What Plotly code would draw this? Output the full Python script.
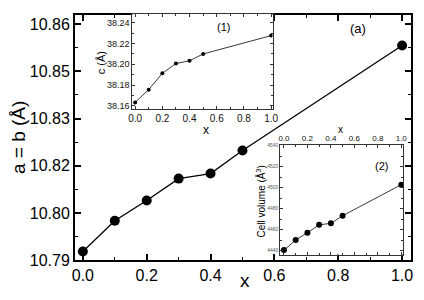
import plotly.graph_objects as go

# ---------------- data ----------------
x_vals = [0.0, 0.1, 0.2, 0.3, 0.4, 0.5, 1.0]
ab_vals = [10.7926, 10.8017, 10.8077, 10.8142, 10.8157, 10.8225, 10.8536]
c_vals = [38.1632, 38.1755, 38.1913, 38.2007, 38.2034, 38.2100, 38.2277]
vol_vals = [4440.6, 4450.2, 4457.1, 4464.6, 4466.1, 4473.3, 4502.8]

main_ytickvals = [10.790, 10.804, 10.818, 10.832, 10.846, 10.860]
main_yticktext = ["10.79", "10.80", "10.82", "10.83", "10.85", "10.86"]
main_xtickvals = [0.0, 0.2, 0.4, 0.6, 0.8, 1.0]
main_xticktext = ["0.0", "0.2", "0.4", "0.6", "0.8", "1.0"]
c_tickvals = [38.16, 38.18, 38.20, 38.22, 38.24]
c_ticktext = ["38.16", "38.18", "38.20", "38.22", "38.24"]
vol_tickvals = [4440, 4460, 4480, 4500, 4520, 4540]
vol_ticktext = ["4440", "4460", "4480", "4500", "4520", "4540"]

FONT = "Liberation Sans, Arial, sans-serif"
W, H = 424, 300

fig = go.Figure()

fig.add_trace(go.Scatter(x=x_vals, y=ab_vals, mode="lines+markers",
                         line=dict(color="black", width=1.3),
                         marker=dict(color="black", size=10),
                         xaxis="x", yaxis="y", showlegend=False))
fig.add_trace(go.Scatter(x=x_vals, y=c_vals, mode="lines+markers",
                         line=dict(color="#222", width=0.9),
                         marker=dict(color="black", size=4),
                         xaxis="x2", yaxis="y2", showlegend=False))
fig.add_trace(go.Scatter(x=x_vals, y=vol_vals, mode="lines+markers",
                         line=dict(color="#222", width=0.9),
                         marker=dict(color="black", size=6),
                         xaxis="x3", yaxis="y3", showlegend=False))


def px_x(p):
    return p / W


def px_y(p):
    return 1 - p / H


main_ax = dict(showline=True, linecolor="black", linewidth=2, mirror="ticks",
               ticks="inside", ticklen=6, tickwidth=1.5, tickcolor="black",
               showgrid=False, zeroline=False, ticklabeloverflow="allow",
               tickfont=dict(family=FONT, size=16, color="black"))

fig.update_layout(
    width=W, height=H,
    margin=dict(l=0, r=0, t=0, b=0),
    paper_bgcolor="white", plot_bgcolor="white",
    xaxis=dict(main_ax, domain=[px_x(72.7), px_x(416.7)], range=[-0.0247, 1.0275],
               tickvals=main_xtickvals, ticktext=main_xticktext, anchor="y",
               minor=dict(dtick=0.1, ticks="inside", ticklen=3, tickwidth=1.2, tickcolor="black")),
    yaxis=dict(main_ax, domain=[px_y(268), px_y(12)], range=[10.79, 10.8628],
               tickvals=main_ytickvals, ticktext=main_yticktext, anchor="x",
               minor=dict(dtick=0.007, tick0=10.79, ticks="inside", ticklen=3, tickwidth=1.2, tickcolor="black")),
)

inset_ax = dict(showline=True, linecolor="#333", linewidth=1, mirror="ticks",
                ticks="inside", ticklen=3, tickwidth=0.8, tickcolor="#333",
                showgrid=False, zeroline=False, ticklabeloverflow="allow")

fig.update_layout(
    xaxis2=dict(inset_ax, domain=[px_x(131.5), px_x(275)], range=[-0.02, 1.01],
                tickvals=main_xtickvals, ticktext=main_xticktext, anchor="y2",
                tickfont=dict(family=FONT, size=10, color="#111"),
                minor=dict(dtick=0.1, ticks="inside", ticklen=2, tickwidth=0.7, tickcolor="#333")),
    yaxis2=dict(inset_ax, domain=[px_y(110), px_y(11)], range=[38.1572, 38.249],
                tickvals=c_tickvals, ticktext=c_ticktext, anchor="x2",
                tickfont=dict(family=FONT, size=9, color="#111"),
                minor=dict(dtick=0.01, ticks="inside", ticklen=2, tickwidth=0.7, tickcolor="#333")),
    xaxis3=dict(inset_ax, domain=[px_x(283), px_x(409)], range=[-0.031, 1.018],
                side="top", tickvals=main_xtickvals, ticktext=main_xticktext, anchor="y3",
                tickfont=dict(family=FONT, size=8, color="#111"),
                minor=dict(dtick=0.1, ticks="inside", ticklen=2, tickwidth=0.7, tickcolor="#333")),
    yaxis3=dict(inset_ax, domain=[px_y(262), px_y(148)], range=[4436.4, 4540.5],
                tickvals=vol_tickvals, ticktext=vol_ticktext, anchor="x3",
                tickfont=dict(family=FONT, size=5, color="#555"),
                minor=dict(dtick=10, ticks="inside", ticklen=2, tickwidth=0.7, tickcolor="#333")),
)

annots = [
    dict(text="a = b (Å)", x=px_x(15), y=px_y(140), textangle=-90, size=19),
    dict(text="x", x=px_x(247), y=px_y(289), size=19),
    dict(text="(a)", x=px_x(363), y=px_y(27), size=13),
    dict(text="(1)", x=px_x(225), y=px_y(25), size=11),
    dict(text="(2)", x=px_x(387), y=px_y(170), size=11),
    dict(text="c (Å)", x=px_x(99), y=px_y(62), textangle=-90, size=11),
    dict(text="x", x=px_x(207), y=px_y(132), size=12),
    dict(text="x", x=px_x(345), y=px_y(132), size=10),
    dict(text="Cell volume (Å<sup>3</sup>)", x=px_x(263), y=px_y(207), textangle=-90, size=10),
]
for a in annots:
    fig.add_annotation(text=a["text"], x=a["x"], y=a["y"], xref="paper", yref="paper",
                       showarrow=False, textangle=a.get("textangle", 0),
                       xanchor="center", yanchor="middle",
                       font=dict(family=FONT, size=a["size"], color="black"))

fig.write_html("out.html", config={"displayModeBar": False},
               post_script="document.body.style.margin='0';")
